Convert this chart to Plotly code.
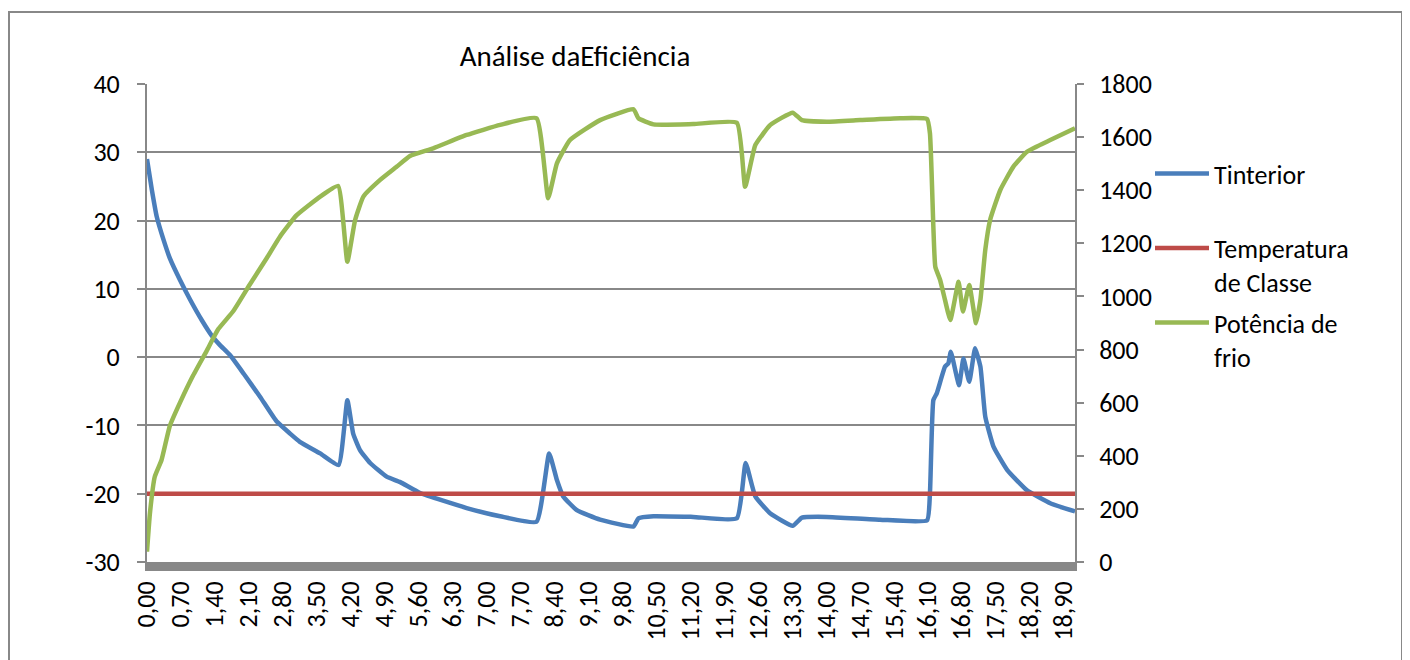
import plotly.graph_objects as go

# ---- data ----
title_text = "Análise daEficiência"
series_names = ["Tinterior<br> ", "Temperatura<br>de Classe", "Potência de<br>frio"]

t_interior = [0.00, 0.10, 0.20, 0.34, 0.47, 0.68, 0.89, 1.13, 1.33, 1.50, 1.71, 1.99, 2.33, 2.67,
              2.95, 3.15, 3.57, 3.95, 4.13, 4.25, 4.39, 4.60, 4.94, 5.22, 5.63, 6.59, 7.28, 8.03,
              8.29, 8.45, 8.58, 8.86, 9.34, 10.03, 10.13, 10.44, 11.26, 12.16, 12.34, 12.54,
              12.85, 13.31, 13.50, 14.01, 15.11, 16.08, 16.14, 16.21, 16.28, 16.45, 16.52, 16.57,
              16.74, 16.83, 16.95, 17.07, 17.18, 17.28, 17.45, 17.73, 18.14, 18.62, 19.13]
tinterior = [29.0, 24.5, 20.6, 17.2, 14.5, 11.3, 8.4, 5.4, 3.2, 1.8, 0.3, -2.4, -5.8, -9.4,
             -11.2, -12.4, -14.1, -15.8, -6.3, -11.2, -13.6, -15.5, -17.5, -18.3, -19.9, -22.1,
             -23.3, -24.1, -14.1, -18.0, -20.4, -22.4, -23.8, -24.8, -23.6, -23.3, -23.4, -23.6,
             -15.5, -20.4, -22.9, -24.7, -23.5, -23.4, -23.8, -23.9, -19.9, -6.3, -5.3, -1.4,
             -0.9, 0.8, -4.1, -0.2, -3.6, 1.3, -1.4, -8.7, -13.1, -16.5, -19.5, -21.4, -22.6]

class_temperature = -20

t_power = [0.00, 0.06, 0.16, 0.30, 0.47, 0.68, 0.95, 1.23, 1.47, 1.78, 2.12, 2.47, 2.74, 3.08,
           3.57, 3.94, 4.13, 4.29, 4.46, 4.80, 5.15, 5.42, 5.90, 6.59, 7.28, 8.03, 8.27,
           8.45, 8.72, 9.34, 10.03, 10.13, 10.44, 11.26, 12.16, 12.33, 12.54, 12.85, 13.31,
           13.50, 14.01, 14.70, 15.53, 16.08, 16.14, 16.21, 16.25, 16.35, 16.45, 16.56, 16.73,
           16.82, 16.95, 17.09, 17.18, 17.28, 17.38, 17.59, 17.86, 18.14, 18.62, 19.13]
potencia_frio = [39, 183, 321, 384, 512, 600, 702, 795, 877, 945, 1045, 1145, 1225, 1305,
                 1376, 1416, 1131, 1288, 1376, 1438, 1489, 1529, 1558, 1608, 1646, 1671, 1370,
                 1501, 1589, 1664, 1705, 1671, 1648, 1649, 1654, 1413, 1570, 1646, 1692,
                 1664, 1658, 1664, 1671, 1668, 1614, 1263, 1112, 1062, 987, 911, 1055,
                 943, 1043, 899, 987, 1175, 1288, 1401, 1489, 1545, 1589, 1633]

x_tick_values = [round(0.7 * k, 2) for k in range(28)]
x_tick_labels = [f"{v:.2f}".replace(".", ",") for v in x_tick_values]
x_max = 19.13
y_left_ticks = [-30, -20, -10, 0, 10, 20, 30, 40]
y_right_ticks = [0, 200, 400, 600, 800, 1000, 1200, 1400, 1600, 1800]

# ---- styling ----
FONT = "Carlito, Calibri, Lato, sans-serif"
GRID = "#888888"
BLUE = "#4A7EBB"
RED = "#BE4B48"
GREEN = "#98B954"

OFF = 8  # page body margin
W, H = 1410 - OFF, 660 - OFF
PL, PR, PT, PB = 147, 1075, 84, 562  # plot area in page pixels
ML, MT = PL - OFF, PT - OFF
MR = W - (PR - OFF)
MB = H - (PB - OFF)
pw, ph = PR - PL, PB - PT


def px_to_paper_x(px):
    return (px - PL) / pw


def py_to_paper_y(py):
    return (PB - py) / ph


fig = go.Figure()
fig.add_trace(go.Scatter(x=t_interior, y=tinterior, mode="lines", name=series_names[0],
                         line=dict(color=BLUE, width=4.5, shape="spline", smoothing=0.4),
                         legendgroup="a"))
fig.add_trace(go.Scatter(x=t_interior, y=[class_temperature] * len(t_interior), mode="lines",
                         name=series_names[1], line=dict(color=RED, width=4.5), legendgroup="b"))
fig.add_trace(go.Scatter(x=t_power, y=potencia_frio, mode="lines", name=series_names[2],
                         line=dict(color=GREEN, width=4.5, shape="spline", smoothing=0.4),
                         yaxis="y2", legendgroup="c"))

fig.update_layout(
    width=W, height=H,
    margin=dict(l=ML, r=MR, t=MT, b=MB, autoexpand=False),
    paper_bgcolor="white", plot_bgcolor="white",
    font=dict(family=FONT, size=26, color="black"),
    title=dict(text=title_text, x=(575 - OFF) / W, xanchor="center", y=1 - (56 - OFF) / H,
               yanchor="middle", font=dict(family=FONT, size=29, color="black")),
    xaxis=dict(range=[0, x_max], tickmode="array", tickvals=x_tick_values, ticktext=x_tick_labels,
               tickangle=-90, showgrid=False, zeroline=False, showline=True, linecolor="#888888",
               linewidth=9, ticks="", ticklabelstandoff=0),
    yaxis=dict(range=[-30, 40], tickmode="array", tickvals=y_left_ticks,
               ticktext=[str(v) for v in y_left_ticks], showgrid=True, gridcolor=GRID,
               gridwidth=1.6, zeroline=False, showline=True, linecolor=GRID, linewidth=2,
               ticks="outside", ticklen=8, tickcolor=GRID, tickwidth=1.5, ticklabelstandoff=12),
    yaxis2=dict(range=[0, 1800], tickmode="array", tickvals=y_right_ticks,
                ticktext=[str(v) for v in y_right_ticks], overlaying="y", side="right",
                showgrid=False, zeroline=False, showline=True, linecolor=GRID, linewidth=2,
                ticks="outside", ticklen=7, tickcolor=GRID, tickwidth=1.5, ticklabelstandoff=10),
    legend=dict(x=px_to_paper_x(1150), xanchor="left", y=py_to_paper_y(150), yanchor="top",
                traceorder="grouped", tracegroupgap=4, valign="top", itemwidth=54,
                bgcolor="rgba(0,0,0,0)", font=dict(family=FONT, size=26)),
    showlegend=True,
    shapes=[dict(type="rect", xref="paper", yref="paper",
                 x0=px_to_paper_x(9), x1=px_to_paper_x(1402),
                 y0=py_to_paper_y(700), y1=py_to_paper_y(12),
                 line=dict(color="#888888", width=2), fillcolor="rgba(0,0,0,0)", layer="below")],
)

fig.write_html("out.html")
